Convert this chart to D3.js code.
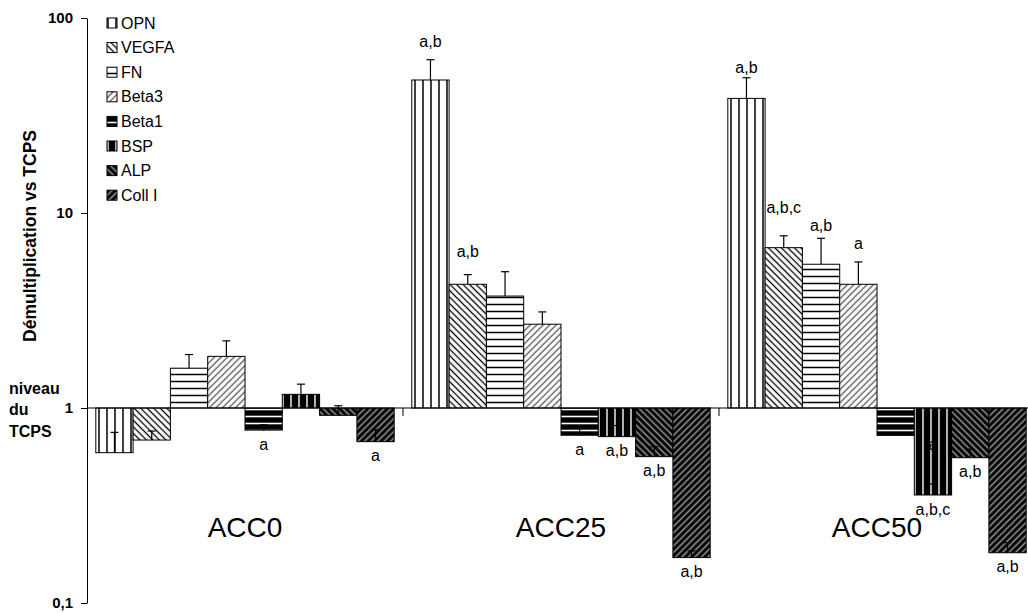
<!DOCTYPE html>
<html><head><meta charset="utf-8">
<script src="https://cdn.jsdelivr.net/npm/d3@7"></script>
<style>
html,body{margin:0;padding:0;background:#fff;}
svg{display:block;font-family:"Liberation Sans",Arial,sans-serif;}
</style></head>
<body>
<svg id="chart" width="1028" height="613"></svg>
<script>
// ---- data ----
const categories = ["ACC0", "ACC25", "ACC50"];
const series = ["OPN", "VEGFA", "FN", "Beta3", "Beta1", "BSP", "ALP", "Coll I"];
const valuesACC0  = [0.59, 0.685, 1.60, 1.84, 0.77, 1.175, 0.917, 0.672];
const valuesACC25 = [48.1, 4.31, 3.75, 2.69, 0.725, 0.713, 0.563, 0.171];
const valuesACC50 = [38.7, 6.64, 5.46, 4.31, 0.724, 0.358, 0.556, 0.181];
const errorsACC0  = [0.16, 0.077, 0.28, 0.37, 0.05, 0.15, 0.11, 0.10];
const errorsACC25 = [13, 0.52, 1.25, 0.42, 0.085, 0.10, 0.07, 0.014];
const errorsACC50 = [10.7, 1.0, 1.96, 1.3, 0.023, 0.05, 0.06, 0.023];
const sigACC0  = ["", "", "", "", "a", "", "", "a"];
const sigACC25 = ["a,b", "a,b", "", "", "a", "a,b", "a,b", "a,b"];
const sigACC50 = ["a,b", "a,b,c", "a,b", "a", "", "a,b,c", "a,b", "a,b"];
const yTickValues = [0.1, 1, 10, 100];
const yTickLabels = ["0,1", "1", "10", "100"];

// ---- layout (not data) ----
const values = [valuesACC0, valuesACC25, valuesACC50];
const errors = [errorsACC0, errorsACC25, errorsACC50];
const sigs = [sigACC0, sigACC25, sigACC50];
// extra vertical offsets of positive labels above the error cap (px)
const posLabelLift = {"1-0": 18, "1-1": 23, "2-0": 10, "2-1": 28, "2-2": 13, "2-3": 19};

const svg = d3.select("#chart");
const defs = svg.append("defs");

function linePattern(id, bg, fg, spacing, width, angle) {
  const p = defs.append("pattern").attr("id", id)
    .attr("patternUnits", "userSpaceOnUse")
    .attr("width", spacing).attr("height", spacing)
    .attr("patternTransform", `rotate(${angle})`);
  p.append("rect").attr("width", spacing).attr("height", spacing).attr("fill", bg);
  p.append("line").attr("x1", spacing / 2).attr("x2", spacing / 2)
    .attr("y1", 0).attr("y2", spacing)
    .attr("stroke", fg).attr("stroke-width", width);
}
linePattern("p0", "#fff", "#000", 8, 1.5, 0);      // OPN vertical
linePattern("p1", "#fff", "#000", 4.6, 1.3, -45);  // VEGFA \
linePattern("p2", "#fff", "#000", 7, 1.5, 90);     // FN horizontal
linePattern("p3", "#fff", "#555", 4.6, 1.3, 45);   // Beta3 /
linePattern("p4", "#000", "#fff", 7, 1.6, 90);     // Beta1 horizontal dark
linePattern("p5", "#000", "#ddd", 8, 1.6, 0);      // BSP vertical dark
linePattern("p6", "#000", "#999", 4.6, 1.5, -45);  // ALP \ dark
linePattern("p7", "#000", "#999", 4.6, 1.5, 45);   // Coll I / dark

const plotLeft = 87, plotTop = 18, plotBottom = 603;
const y = d3.scaleLog().domain([0.1, 100]).range([plotBottom, plotTop]);
const x0 = d3.scaleBand().domain(categories).range([plotLeft, plotLeft + 3 * 316]).padding(0);
const x1 = d3.scaleBand().domain(series).range([0, x0.bandwidth()]).paddingInner(0).paddingOuter(0.236);

const base = y(1);

// bars
categories.forEach((cat, ci) => {
  const g = svg.append("g").attr("transform", `translate(${x0(cat)},0)`);
  series.forEach((s, si) => {
    const v = values[ci][si];
    const bx = x1(s), bw = x1.bandwidth();
    g.append("rect")
      .attr("x", bx).attr("width", bw)
      .attr("y", Math.min(y(v), base))
      .attr("height", Math.abs(y(v) - base))
      .attr("fill", `url(#p${si})`)
      .attr("stroke", "#000").attr("stroke-width", 1);
  });
  // error bars
  series.forEach((s, si) => {
    const v = values[ci][si], e = errors[ci][si];
    const cx = x1(s) + x1.bandwidth() / 2;
    g.append("line").attr("x1", cx).attr("x2", cx)
      .attr("y1", y(v)).attr("y2", y(v + e))
      .attr("stroke", "#000").attr("stroke-width", 1.2);
    g.append("line").attr("x1", cx - 4).attr("x2", cx + 4)
      .attr("y1", y(v + e)).attr("y2", y(v + e))
      .attr("stroke", "#000").attr("stroke-width", 1.2);
  });
  // significance labels
  series.forEach((s, si) => {
    const t = sigs[ci][si];
    if (!t) return;
    const v = values[ci][si], e = errors[ci][si];
    const cx = x1(s) + x1.bandwidth() / 2;
    let cy;
    if (v >= 1) cy = y(v + e) - (posLabelLift[ci + "-" + si] || 15);
    else cy = y(v) + 14;
    g.append("text").attr("x", cx).attr("y", cy).attr("dy", "0.35em")
      .attr("text-anchor", "middle").attr("font-size", 16).attr("fill", "#000").text(t);
  });
  // category label
  svg.append("text").attr("x", x0(cat) + x0.bandwidth() / 2).attr("y", 527).attr("dy", "0.35em")
    .attr("text-anchor", "middle").attr("font-size", 28).attr("fill", "#000").text(cat);
});
// hidden "a" inside ACC50 BSP bar (as in the original)
svg.append("text")
  .attr("x", x0("ACC50") + x1("BSP") + x1.bandwidth() / 2).attr("y", y(0.72) + 9)
  .attr("dy", "0.35em").attr("text-anchor", "middle").attr("font-size", 16).attr("fill", "#000").text("a");

// x baseline with category ticks
svg.append("line").attr("x1", plotLeft).attr("x2", 1028).attr("y1", base).attr("y2", base)
  .attr("stroke", "#000").attr("stroke-width", 1);
categories.forEach((cat, ci) => {
  if (ci === 0) return;
  svg.append("line").attr("x1", x0(cat)).attr("x2", x0(cat)).attr("y1", base).attr("y2", base + 8)
    .attr("stroke", "#000").attr("stroke-width", 1);
});

// y axis
const yAxis = d3.axisLeft(y).tickValues(yTickValues)
  .tickFormat((d, i) => yTickLabels[i]).tickSize(6).tickSizeOuter(0);
const ya = svg.append("g").attr("transform", `translate(${plotLeft},0)`).call(yAxis);
ya.select(".domain").attr("stroke", "#000");
ya.selectAll("line").attr("stroke", "#000");
ya.selectAll("text").attr("font-size", 15).attr("font-weight", "bold")
  .attr("font-family", "Liberation Sans, Arial, sans-serif").attr("fill", "#000").attr("x", -14);

// y title
svg.append("text").attr("transform", "translate(30,236) rotate(-90)").attr("dy", "0.35em")
  .attr("text-anchor", "middle").attr("font-size", 17.5).attr("font-weight", "bold").text("Démultiplication vs TCPS");
// niveau du TCPS
["niveau", "du", "TCPS"].forEach((t, i) => {
  svg.append("text").attr("x", 9).attr("y", 388 + i * 21.5).attr("dy", "0.35em")
    .attr("font-size", 16).attr("font-weight", "bold").text(t);
});

// legend
series.forEach((s, si) => {
  const cy = 23 + si * 24.6;
  svg.append("rect").attr("x", 107).attr("y", cy - 5).attr("width", 10).attr("height", 10)
    .attr("fill", `url(#p${si})`).attr("stroke", "#000").attr("stroke-width", 1);
  svg.append("text").attr("x", 121).attr("y", cy).attr("dy", "0.35em")
    .attr("font-size", 16).text(s);
});
</script>
</body></html>
